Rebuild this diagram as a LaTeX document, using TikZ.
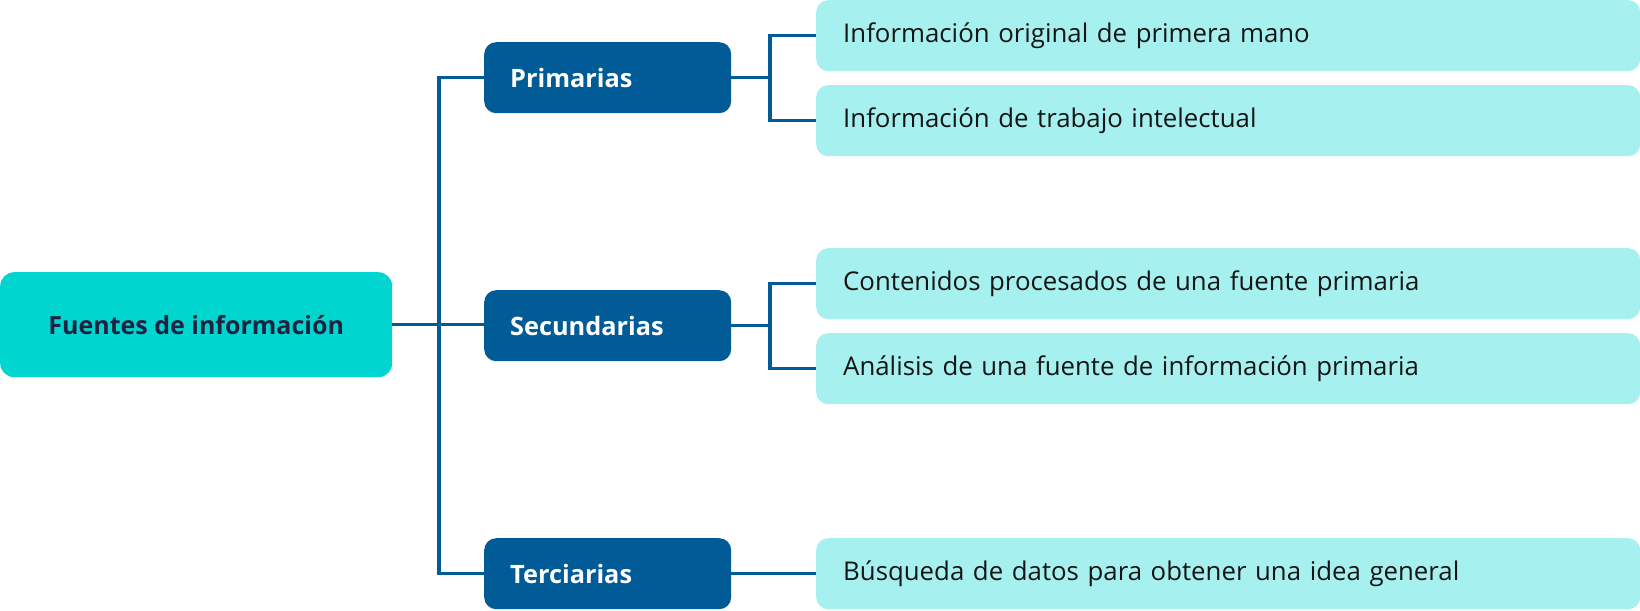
\documentclass[tikz,border=0pt]{standalone}
\usepackage{fontspec}
\setmainfont{Open Sans}
\definecolor{rootc}{HTML}{00D6CF}
\definecolor{dblue}{HTML}{005B96}
\definecolor{leafc}{HTML}{A6F0EF}
\definecolor{navy}{HTML}{1E2341}
\definecolor{leaftext}{HTML}{151515}
\tikzset{
  rootbox/.style={fill=rootc, rounded corners=14pt, minimum width=392pt, minimum height=105pt,
    inner sep=0pt, anchor=north west, text=navy, font=\bfseries\fontsize{25}{29}\selectfont},
  catbox/.style={fill=dblue, rounded corners=12pt, minimum height=71pt, text width=195pt,
    inner xsep=26pt, inner ysep=0pt, align=left, anchor=north west, text=white,
    font=\bfseries\fontsize{25.3}{29}\selectfont},
  leafbox/.style={fill=leafc, rounded corners=12pt, minimum height=71pt, text width=770pt,
    inner xsep=27pt, inner ysep=0pt, align=left, anchor=north west, text=leaftext,
    font=\fontsize{25.8}{30}\selectfont},
  conn/.style={draw=dblue, line width=3.2pt}
}
\begin{document}
\begin{tikzpicture}[x=1pt,y=-1pt]
\useasboundingbox (0,0) rectangle (1640,610);
\node[rootbox] (root) at (0,272) {Fuentes de información};
\node[catbox] (pri) at (484,42) {Primarias};
\node[catbox] (sec) at (484,290) {Secundarias};
\node[catbox] (ter) at (484,538) {Terciarias};
\node[leafbox] (l1) at (816,0) {Información original de primera mano};
\node[leafbox] (l2) at (816,85) {Información de trabajo intelectual};
\node[leafbox] (l3) at (816,248) {Contenidos procesados de una fuente primaria};
\node[leafbox] (l4) at (816,333) {Análisis de una fuente de información primaria};
\node[leafbox] (l5) at (816,538) {Búsqueda de datos para obtener una idea general};
\draw[conn] (root.east) -- (root.east -| sec.west);
\draw[conn] (pri.west) -- ++(-45,0) |- (ter.west);
\draw[conn] (pri.east) -- ++(39,0);
\draw[conn] (l1.west) -- ++(-46,0) |- (l2.west);
\draw[conn] (sec.east) -- ++(39,0);
\draw[conn] (l3.west) -- ++(-46,0) |- (l4.west);
\draw[conn] (ter.east) -- (l5.west);
\end{tikzpicture}
\end{document}
